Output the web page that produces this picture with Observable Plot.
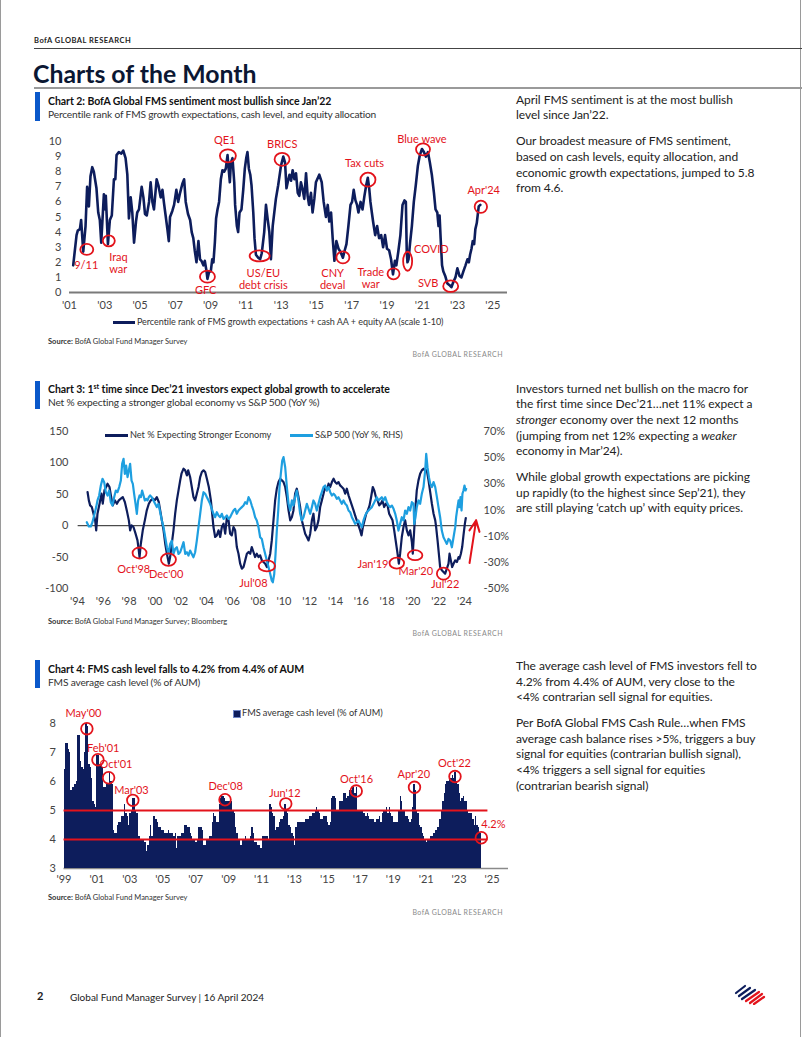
<!DOCTYPE html>
<html><head><meta charset="utf-8">
<script src="https://cdn.jsdelivr.net/npm/d3@7"></script>
<script src="https://cdn.jsdelivr.net/npm/@observablehq/plot@0.6"></script>
<style>
body{margin:0;background:#fff;}
#page{position:relative;width:802px;height:1037px;overflow:hidden;font-family:Lato,"Open Sans",sans-serif;color:#1b1b1b;}
#page .a{position:absolute;white-space:nowrap;}
.chart{position:absolute;left:0;}
.chart svg{overflow:visible;}
.rt{font-size:12px;line-height:15.7px;color:#222;letter-spacing:-0.05px;}
.ttl{font-size:10.5px;font-weight:700;line-height:14px;color:#111;letter-spacing:-0.05px;}
.sub{font-size:10.2px;line-height:14px;color:#333;letter-spacing:-0.17px;}
.src{font-size:7.5px;line-height:10px;color:#333;}
.bofa{font-size:7px;line-height:10px;color:#8a8a8a;letter-spacing:0.5px;}
.bar{background:#0a58ca;width:5px;}
.leg{font-size:9.2px;line-height:12px;color:#333;letter-spacing:-0.05px;}
</style></head><body><div id="page">
<div class="a" style="left:0;top:0;width:1px;height:1037px;background:#9a9a9a"></div>
<div class="a" style="left:800px;top:0;width:1px;height:1037px;background:#9a9a9a"></div>
<div class="a" style="left:34px;top:36px;font-size:7.5px;font-weight:700;letter-spacing:0.5px;line-height:10px;color:#222">BofA GLOBAL RESEARCH</div>
<div class="a" style="left:34px;top:48px;width:768px;height:1px;background:#444"></div>
<div class="a" style="left:33px;top:60px;font-size:24.8px;font-weight:700;line-height:28px;color:#0b1733">Charts of the Month</div>
<div class="a" style="left:34px;top:87px;width:768px;height:2px;background:#9a9a9a"></div>

<div class="a bar" style="left:35px;top:92px;height:29px"></div>
<div class="a ttl" style="left:48px;top:93.5px">Chart 2: BofA Global FMS sentiment most bullish since Jan’22</div>
<div class="a sub" style="left:48px;top:107px">Percentile rank of FMS growth expectations, cash level, and equity allocation</div>
<div id="c2" class="chart" style="top:130px"></div>
<div class="a" style="left:113px;top:321px;width:22px;height:2.5px;background:#0d1d5c"></div>
<div class="a leg" style="left:137px;top:316px;font-size:9px">Percentile rank of FMS growth expectations + cash AA + equity AA (scale 1-10)</div>
<div class="a src" style="left:48px;top:337px"><b>Source:</b> BofA Global Fund Manager Survey</div>
<div class="a bofa" style="left:403px;width:100px;text-align:right;top:349px">BofA GLOBAL RESEARCH</div>

<div class="a rt" style="left:516px;top:91.5px">April FMS sentiment is at the most bullish<br>level since Jan’22.</div>
<div class="a rt" style="left:516px;top:133.2px">Our broadest measure of FMS sentiment,<br>based on cash levels, equity allocation, and<br>economic growth expectations, jumped to 5.8<br>from 4.6.</div>

<div class="a bar" style="left:35px;top:381px;height:28px"></div>
<div class="a ttl" style="left:48px;top:381.5px">Chart 3: 1<sup style="font-size:7px;line-height:0">st</sup> time since Dec’21 investors expect global growth to accelerate</div>
<div class="a sub" style="left:48px;top:394.5px">Net % expecting a stronger global economy vs S&amp;P 500 (YoY %)</div>
<div id="c3" class="chart" style="top:420px"></div>
<div class="a" style="left:105px;top:434px;width:23px;height:2.5px;background:#0d1d5c"></div>
<div class="a leg" style="left:130px;top:429px">Net % Expecting Stronger Economy</div>
<div class="a" style="left:290px;top:434px;width:23px;height:2.5px;background:#1e9fe0"></div>
<div class="a leg" style="left:315px;top:429px">S&amp;P 500 (YoY %, RHS)</div>
<div class="a src" style="left:48px;top:617px"><b>Source:</b> BofA Global Fund Manager Survey; Bloomberg</div>
<div class="a bofa" style="left:403px;width:100px;text-align:right;top:628px">BofA GLOBAL RESEARCH</div>

<div class="a rt" style="left:516px;top:380.5px">Investors turned net bullish on the macro for<br>the first time since Dec’21…net 11% expect a<br><i>stronger</i> economy over the next 12 months<br>(jumping from net 12% expecting a <i>weaker</i><br>economy in Mar’24).</div>
<div class="a rt" style="left:516px;top:468.8px">While global growth expectations are picking<br>up rapidly (to the highest since Sep’21), they<br>are still playing ‘catch up’ with equity prices.</div>

<div class="a bar" style="left:35px;top:660px;height:28px"></div>
<div class="a ttl" style="left:48px;top:661.5px">Chart 4: FMS cash level falls to 4.2% from 4.4% of AUM</div>
<div class="a sub" style="left:48px;top:675px">FMS average cash level (% of AUM)</div>
<div id="c4" class="chart" style="top:695px"></div>
<div class="a" style="left:233px;top:709.5px;width:6px;height:6px;background:#0d1d5c;border:0.8px solid #6f86c8"></div>
<div class="a leg" style="left:242px;top:707px">FMS average cash level (% of AUM)</div>
<div class="a src" style="left:48px;top:893px"><b>Source:</b> BofA Global Fund Manager Survey</div>
<div class="a bofa" style="left:403px;width:100px;text-align:right;top:907px">BofA GLOBAL RESEARCH</div>

<div class="a rt" style="left:516px;top:658px">The average cash level of FMS investors fell to<br>4.2% from 4.4% of AUM, very close to the<br>&lt;4% contrarian sell signal for equities.</div>
<div class="a rt" style="left:516px;top:715px">Per BofA Global FMS Cash Rule…when FMS<br>average cash balance rises &gt;5%, triggers a buy<br>signal for equities (contrarian bullish signal),<br>&lt;4% triggers a sell signal for equities<br>(contrarian bearish signal)</div>

<div class="a" style="left:37px;top:989px;font-size:11px;font-weight:700;line-height:14px">2</div>
<div class="a" style="left:70px;top:989.5px;font-size:10px;line-height:14px;color:#222">Global Fund Manager Survey | 16 April 2024</div>
<svg class="a" style="left:733px;top:983px" width="34" height="22" viewBox="0 0 34 22">
<g stroke-linecap="round" stroke-width="2.2" fill="none">
<path d="M3 10 L12 3" stroke="#0d1d5c"/><path d="M6 13 L17 5" stroke="#0d1d5c"/><path d="M9 16 L22 7" stroke="#0d1d5c"/>
<path d="M13 18 L26 9" stroke="#e3131b"/><path d="M17 20 L29 11" stroke="#e3131b"/><path d="M21 21 L31 14" stroke="#e3131b"/>
</g></svg>
</div>
<script>
// ---------- Chart 2 data: BofA FMS sentiment (scale 0-10) ----------
const sentYears = [2001.21,2001.40,2001.47,2001.59,2001.66,2001.78,2001.91,2002.00,2002.10,2002.19,2002.29,2002.38,2002.53,2002.63,2002.72,2002.80,2002.95,2003.03,2003.06,2003.18,2003.29,2003.40,2003.52,2003.60,2003.67,2003.80,2003.94,2004.05,2004.18,2004.28,2004.37,2004.47,2004.56,2004.66,2004.77,2004.84,2004.94,2005.09,2005.19,2005.28,2005.38,2005.51,2005.60,2005.70,2005.79,2005.94,2006.04,2006.17,2006.27,2006.36,2006.45,2006.55,2006.63,2006.70,2006.83,2006.93,2007.06,2007.16,2007.27,2007.40,2007.50,2007.59,2007.72,2007.84,2007.93,2008.02,2008.10,2008.20,2008.31,2008.40,2008.48,2008.59,2008.67,2008.77,2008.82,2008.92,2009.01,2009.09,2009.16,2009.24,2009.31,2009.39,2009.48,2009.58,2009.67,2009.77,2009.86,2009.96,2010.03,2010.09,2010.15,2010.24,2010.34,2010.39,2010.49,2010.56,2010.64,2010.75,2010.85,2010.94,2011.02,2011.09,2011.17,2011.25,2011.32,2011.42,2011.49,2011.57,2011.70,2011.81,2011.90,2012.04,2012.14,2012.23,2012.33,2012.42,2012.52,2012.70,2012.83,2012.99,2013.12,2013.22,2013.30,2013.37,2013.47,2013.56,2013.65,2013.75,2013.84,2013.94,2014.03,2014.12,2014.22,2014.31,2014.41,2014.50,2014.58,2014.69,2014.78,2014.88,2014.97,2015.16,2015.30,2015.41,2015.54,2015.64,2015.73,2015.83,2015.92,2016.02,2016.13,2016.25,2016.36,2016.50,2016.58,2016.70,2016.81,2016.93,2017.02,2017.11,2017.21,2017.30,2017.38,2017.50,2017.61,2017.72,2017.82,2017.91,2017.99,2018.06,2018.14,2018.21,2018.33,2018.44,2018.55,2018.67,2018.78,2018.89,2019.00,2019.12,2019.23,2019.34,2019.45,2019.53,2019.64,2019.76,2019.88,2019.99,2020.07,2020.12,2020.16,2020.22,2020.31,2020.41,2020.52,2020.63,2020.75,2020.86,2020.98,2021.09,2021.20,2021.32,2021.43,2021.54,2021.66,2021.75,2021.85,2021.92,2021.98,2022.04,2022.12,2022.19,2022.30,2022.42,2022.53,2022.65,2022.76,2022.88,2022.99,2023.11,2023.22,2023.33,2023.45,2023.56,2023.64,2023.71,2023.79,2023.86,2023.94,2024.01,2024.09,2024.20,2024.29];
const sentValues = [1.8,3.8,4.1,4.2,4.8,2.7,4.4,7.0,5.7,7.7,8.3,8.0,6.9,5.3,4.8,3.3,6.5,5.5,6.4,3.2,4.8,5.1,7.5,7.5,9.1,9.3,9.2,9.4,8.9,7.8,4.9,6.3,5.3,3.3,4.7,5.3,5.5,7.0,6.3,5.2,5.1,6.0,7.3,6.0,5.5,7.5,7.1,6.3,6.8,5.9,5.1,4.2,3.4,5.0,5.4,5.8,6.8,6.0,6.6,7.2,7.5,6.0,5.2,4.8,4.0,3.6,2.8,2.0,3.4,2.2,2.1,1.8,2.1,1.4,0.9,1.4,1.4,2.2,2.0,3.3,4.9,5.5,6.0,7.5,8.1,8.0,8.2,9.1,8.1,7.3,8.6,8.9,7.3,5.8,4.4,4.0,5.3,5.5,6.8,8.2,8.9,9.3,8.2,7.8,7.1,5.3,3.6,2.5,2.3,2.2,2.6,4.0,5.8,4.9,4.0,2.2,4.4,6.2,7.1,8.4,9.0,8.6,6.9,7.3,7.8,7.4,8.1,7.5,7.9,6.6,6.4,7.3,6.8,6.2,7.9,6.4,5.8,6.6,5.3,6.2,7.3,7.8,7.3,6.0,5.0,5.8,4.7,5.3,3.6,2.1,3.4,2.9,2.7,2.3,2.7,3.2,4.4,5.8,6.0,6.8,6.1,5.8,5.3,6.0,5.5,6.4,7.1,7.6,6.9,6.0,5.3,4.7,3.8,4.4,3.6,3.8,3.0,3.8,2.9,2.8,2.2,1.2,2.1,1.8,2.7,3.8,5.8,6.1,6.0,2.7,2.0,2.2,3.3,4.4,6.0,7.1,8.4,9.1,9.5,9.3,9.0,9.3,8.6,7.8,6.6,5.5,5.3,4.4,5.1,3.6,1.8,1.4,1.1,0.6,0.5,0.35,0.7,1.0,1.6,1.1,1.0,1.4,1.8,2.2,2.0,2.5,2.9,3.4,3.2,4.2,4.6,5.7,5.8];
const sentYTicks = [0,1,2,3,4,5,6,7,8,9,10];
const sentXTicks = [2001,2003,2005,2007,2009,2011,2013,2015,2017,2019,2021,2023,2025];
const sentXExtent = [2001, 2025.83];
const sentRingText = ["9/11","Iraq war","GFC","QE1","US/EU debt crisis","BRICS","CNY deval","Tax cuts","Trade war","COVID","SVB","Blue wave","Apr'24"];
const sentRingX = [2001.98,2003.23,2008.82,2009.98,2011.78,2013.05,2016.5,2017.92,2019.37,2020.17,2022.61,2021.04,2024.32];
const sentRingY = [2.85,3.42,1.05,9.05,2.42,8.82,2.32,7.47,1.24,2.07,0.42,9.48,5.68];
const sentLabelText = ["9/11","Iraq\nwar","GFC","QE1","US/EU\ndebt crisis","BRICS","CNY\ndeval","Tax cuts","Trade\nwar","COVID","SVB","Blue wave","Apr'24"];
const sentLabelX = [2001.95,2003.25,2008.72,2009.8,2011.99,2013.06,2015.92,2017.72,2018.08,2020.53,2021.33,2020.98,2024.48];
const sentLabelY = [1.8,1.95,0.18,10.1,0.88,9.8,0.9,8.56,0.94,2.88,0.65,10.13,6.8];

// ---------- Chart 3 data ----------
const netYears = [1994.78,1994.88,1994.98,1995.11,1995.24,1995.37,1995.45,1995.55,1995.71,1995.86,1995.96,1996.09,1996.22,1996.33,1996.48,1996.61,1996.74,1996.89,1997.05,1997.2,1997.36,1997.51,1997.67,1997.82,1997.98,1998.08,1998.19,1998.34,1998.5,1998.65,1998.75,1998.81,1998.91,1999.06,1999.22,1999.37,1999.53,1999.68,1999.84,1999.99,2000.15,2000.3,2000.41,2000.54,2000.67,2000.8,2000.93,2001.03,2001.08,2001.18,2001.31,2001.44,2001.57,2001.7,2001.83,2001.96,2002.06,2002.22,2002.35,2002.48,2002.58,2002.73,2002.86,2002.99,2003.12,2003.25,2003.38,2003.51,2003.64,2003.77,2003.9,2004.03,2004.18,2004.34,2004.44,2004.54,2004.67,2004.8,2004.93,2005.06,2005.19,2005.32,2005.45,2005.58,2005.71,2005.83,2005.96,2006.09,2006.22,2006.35,2006.48,2006.61,2006.74,2006.87,2007.0,2007.13,2007.26,2007.39,2007.51,2007.64,2007.77,2007.9,2008.03,2008.16,2008.29,2008.42,2008.55,2008.68,2008.81,2008.94,2009.06,2009.19,2009.32,2009.45,2009.58,2009.71,2009.84,2009.97,2010.1,2010.23,2010.36,2010.49,2010.62,2010.74,2010.87,2011.0,2011.13,2011.26,2011.39,2011.52,2011.65,2011.78,2011.91,2012.04,2012.17,2012.29,2012.42,2012.55,2012.68,2012.81,2012.94,2013.07,2013.2,2013.33,2013.46,2013.59,2013.72,2013.85,2013.97,2014.1,2014.23,2014.36,2014.49,2014.62,2014.75,2014.88,2015.01,2015.14,2015.27,2015.4,2015.52,2015.65,2015.78,2015.91,2016.02,2016.12,2016.25,2016.38,2016.51,2016.64,2016.76,2016.89,2017.0,2017.13,2017.26,2017.39,2017.51,2017.64,2017.77,2017.9,2018.03,2018.16,2018.29,2018.42,2018.55,2018.68,2018.81,2018.91,2019.01,2019.14,2019.27,2019.4,2019.53,2019.66,2019.79,2019.92,2019.99,2020.1,2020.2,2020.3,2020.43,2020.56,2020.69,2020.82,2020.95,2021.08,2021.21,2021.34,2021.47,2021.6,2021.73,2021.8,2021.91,2022.01,2022.11,2022.24,2022.37,2022.5,2022.63,2022.76,2022.84,2022.94,2023.04,2023.15,2023.28,2023.41,2023.54,2023.61,2023.72,2023.82,2023.92,2024.03,2024.1];
const netValues = [53.6,40.3,32.4,29.7,19.1,8.5,-7.4,19.1,35.0,51.0,35.0,56.3,61.6,66.9,61.6,45.6,32.4,40.3,35.0,40.3,43.0,45.6,37.7,24.4,8.5,-7.4,0.5,-2.1,-12.7,-23.4,-39.3,-49.9,-28.7,-7.4,8.5,24.4,35.0,40.3,43.0,40.3,45.6,37.7,24.4,8.5,-7.4,-28.7,-44.6,-55.2,-60.5,-49.9,-28.7,-7.4,19.1,40.3,56.3,72.2,82.8,90.8,88.1,80.1,88.1,77.5,61.6,45.6,40.3,51.0,61.6,77.5,85.5,88.1,85.5,74.8,61.6,40.3,19.1,-2.1,-18.0,-15.4,-7.4,-18.0,-2.1,3.2,-12.7,13.8,8.5,-12.7,-15.4,-2.1,-7.4,-34.0,-44.6,-60.5,-68.5,-65.8,-55.2,-44.6,-41.9,-44.6,-34.0,-41.9,-49.9,-44.6,-49.9,-47.2,-55.2,-57.9,-60.5,-65.8,-55.2,-44.6,-23.4,8.5,40.3,58.9,69.5,74.8,72.2,69.5,61.6,45.6,24.4,8.5,13.8,24.4,51.0,58.9,45.6,29.7,8.5,-2.1,-12.7,-18.0,-23.4,-12.7,8.5,19.1,-7.4,-2.1,8.5,29.7,40.3,51.0,61.6,56.3,66.9,61.6,69.5,74.8,69.5,66.9,69.5,64.2,61.6,58.9,51.0,58.9,48.3,40.3,32.4,24.4,16.5,8.5,0.5,-7.4,-15.4,-2.1,8.5,19.1,24.4,32.4,45.6,61.6,56.3,45.6,40.3,32.4,35.0,40.3,29.7,35.0,32.4,19.1,13.8,8.5,-7.4,-26.0,-44.6,-60.5,-44.6,-18.0,-2.1,8.5,-7.4,-15.4,-7.4,-26.0,-44.6,-7.4,29.7,56.3,72.2,82.8,88.1,90.8,88.1,88.1,72.2,53.6,35.0,19.1,8.5,-2.1,-23.4,-44.6,-65.8,-71.1,-73.8,-76.4,-68.5,-60.5,-44.6,-55.2,-65.8,-60.5,-55.2,-57.9,-49.9,-52.5,-44.6,-34.0,-15.4,3.2,12.2];
const spxYears = [1994.72,1994.88,1995.03,1995.16,1995.29,1995.45,1995.55,1995.68,1995.81,1995.94,1996.07,1996.2,1996.33,1996.45,1996.58,1996.71,1996.84,1996.97,1997.1,1997.23,1997.36,1997.46,1997.57,1997.67,1997.77,1997.88,1997.98,1998.08,1998.19,1998.29,1998.39,1998.5,1998.6,1998.7,1998.81,1998.91,1999.01,1999.12,1999.22,1999.32,1999.43,1999.53,1999.63,1999.76,1999.89,2000.02,2000.15,2000.28,2000.41,2000.54,2000.67,2000.8,2000.93,2001.05,2001.18,2001.31,2001.44,2001.57,2001.7,2001.83,2001.96,2002.09,2002.22,2002.35,2002.48,2002.6,2002.73,2002.86,2002.99,2003.12,2003.25,2003.38,2003.51,2003.64,2003.77,2003.9,2004.03,2004.16,2004.28,2004.41,2004.54,2004.67,2004.8,2004.93,2005.06,2005.19,2005.32,2005.45,2005.58,2005.71,2005.83,2005.96,2006.09,2006.22,2006.35,2006.48,2006.61,2006.74,2006.87,2007.0,2007.13,2007.26,2007.39,2007.51,2007.64,2007.77,2007.9,2008.03,2008.16,2008.29,2008.42,2008.55,2008.68,2008.81,2008.94,2009.06,2009.14,2009.25,2009.35,2009.45,2009.56,2009.66,2009.76,2009.87,2009.97,2010.1,2010.23,2010.36,2010.49,2010.62,2010.74,2010.87,2011.0,2011.13,2011.26,2011.39,2011.52,2011.65,2011.78,2011.91,2012.04,2012.17,2012.29,2012.42,2012.55,2012.68,2012.81,2012.94,2013.07,2013.2,2013.33,2013.46,2013.59,2013.72,2013.85,2013.97,2014.1,2014.23,2014.36,2014.49,2014.62,2014.75,2014.88,2015.01,2015.14,2015.27,2015.4,2015.52,2015.65,2015.78,2015.91,2016.04,2016.17,2016.3,2016.43,2016.56,2016.69,2016.82,2016.95,2017.07,2017.2,2017.33,2017.46,2017.59,2017.72,2017.85,2017.98,2018.11,2018.24,2018.37,2018.5,2018.63,2018.75,2018.88,2019.01,2019.14,2019.27,2019.4,2019.53,2019.66,2019.79,2019.92,2020.05,2020.1,2020.2,2020.3,2020.43,2020.56,2020.69,2020.82,2020.95,2021.03,2021.13,2021.24,2021.34,2021.47,2021.6,2021.73,2021.86,2021.98,2022.11,2022.24,2022.37,2022.5,2022.63,2022.76,2022.89,2023.02,2023.15,2023.28,2023.35,2023.46,2023.54,2023.61,2023.69,2023.77,2023.84,2023.92,2024.0,2024.08,2024.13];
const spxValues = [0.7,-2.6,-2.6,0.7,5.8,12.2,17.3,21.1,28.7,33.8,31.3,23.6,21.1,24.9,16.0,13.4,19.8,24.9,23.6,27.5,32.5,45.3,49.1,37.6,44.0,35.1,40.2,45.3,32.5,30.0,22.4,14.7,7.1,17.3,21.1,19.8,24.9,21.1,17.3,18.5,17.3,19.8,21.1,19.8,17.3,14.7,12.2,14.7,8.3,2.0,-3.1,-10.8,-18.5,-23.6,-15.9,-13.4,-23.6,-19.7,-18.5,-23.6,-22.3,-18.5,-14.6,-23.6,-22.3,-24.8,-21.0,-23.6,-26.1,-22.3,-13.4,-3.1,7.1,17.3,23.6,22.4,19.8,17.3,14.7,10.9,7.1,4.5,8.3,5.8,4.5,7.1,3.2,4.5,5.8,3.2,4.5,7.1,9.6,10.9,7.1,9.6,10.9,12.2,13.4,16.0,14.7,19.8,17.3,13.4,9.6,4.5,2.0,-3.1,-10.8,-12.1,-18.5,-23.6,-28.7,-33.8,-38.9,-44.0,-45.2,-38.9,-23.6,-5.7,9.6,27.4,37.6,47.8,50.4,42.7,27.4,14.7,9.6,17.3,13.4,19.8,24.9,17.3,7.1,2.0,4.5,9.6,14.7,10.9,7.1,12.2,17.3,14.7,9.6,14.7,19.8,23.6,27.5,28.7,24.9,27.5,23.6,21.1,22.4,21.1,18.5,19.8,17.3,14.7,17.3,14.7,13.4,9.6,8.3,4.5,2.0,-0.6,0.7,2.0,-0.6,-3.1,2.0,5.8,8.3,9.6,10.9,12.2,14.7,17.3,19.8,17.3,18.5,19.8,17.3,19.8,16.0,13.4,12.2,13.4,10.9,7.1,2.0,-5.7,-0.6,4.5,2.0,9.6,7.1,12.2,9.6,16.0,14.7,-0.6,4.5,12.2,17.3,14.7,22.4,27.5,40.2,52.9,42.7,35.1,30.0,27.5,31.3,27.5,19.8,12.2,4.5,-5.7,-10.8,-13.4,-15.9,-12.1,-13.4,-18.5,-10.8,-3.1,4.5,12.2,17.3,12.2,19.8,9.6,22.4,24.9,28.7,24.9,26.1];
const netTicks = [-100,-50,0,50,100,150];
const spxTicks = [-50,-30,-10,10,30,50,70];
const c3XTicks = [1994,1996,1998,2000,2002,2004,2006,2008,2010,2012,2014,2016,2018,2020,2022,2024];
const c3ZeroSpan = [1994.05, 2024.95];
const c3RingText = ["Oct'98","Dec'00","Jul'08","Jan'19","Mar'20","Jul'22"];
const c3RingX = [1998.81,2001.05,2008.68,2018.75,2020.17,2022.37];
const c3RingY = [-43.5,-54,-64,-59.5,-47,-76.4];
const c3LabelX = [1998.36,2000.87,2007.64,2016.9,2020.23,2022.5];
const c3LabelY = [-69.5,-77.5,-92,-61.6,-72,-92.4];
const c3Arrow = {from: [2024.39, -59.4], to: [2024.9, 8.5]};

// ---------- Chart 4 data: FMS average cash level (% of AUM), monthly from Jan 1999 ----------
const cashStart = [1999, 0];
const cash1999_2008 = [
 6.4,7.3,7.3,7.1,7.0,5.7,5.8,5.8,5.9,6.0,7.6,7.6,
 6.7,6.5,6.4,7.0,8.0,7.9,6.6,6.5,6.1,5.3,5.2,5.1,
 6.9,6.9,6.6,6.6,6.5,5.8,5.8,5.9,5.9,6.3,6.0,5.9,
 4.3,4.2,4.2,4.5,4.6,4.6,4.8,4.8,5.2,4.9,4.8,4.5,
 4.9,5.0,5.4,5.4,5.0,4.9,4.1,4.1,4.0,4.0,4.0,3.9,
 3.6,3.8,4.1,4.5,4.1,4.8,4.8,4.7,4.6,4.4,4.4,4.3,
 4.3,4.2,4.2,4.2,4.3,4.2,4.2,4.2,4.1,4.2,3.7,4.1,
 4.1,4.1,4.2,4.2,4.5,4.5,4.4,4.4,4.2,4.1,4.0,4.0,
 3.9,4.0,4.4,4.4,4.4,4.3,3.8,3.8,4.0,4.0,4.1,4.1,
 4.6,4.9,4.8,4.6,4.6,5.2,5.4,5.5,5.5,5.4,5.3,5.3];
const cash2009_2016 = [
 5.3,5.3,5.3,5.0,4.9,4.4,4.2,4.0,4.0,3.8,4.0,4.0,
 4.1,4.0,4.0,4.0,4.1,4.4,4.2,3.9,3.9,3.8,3.8,3.7,
 3.7,4.1,4.1,4.1,4.1,4.0,5.2,5.1,4.9,4.8,4.3,4.4,
 4.4,4.6,4.7,4.7,4.8,5.2,5.0,4.9,4.5,4.4,4.2,4.1,
 3.8,4.4,4.6,4.6,4.6,4.6,4.6,4.6,4.7,4.7,4.7,4.8,
 4.8,4.9,4.9,5.0,5.1,5.0,4.9,4.7,4.7,4.8,4.8,4.8,
 4.6,4.5,4.6,5.4,5.5,5.5,5.4,5.0,5.0,5.3,5.3,5.3,
 5.6,5.6,5.4,5.5,5.7,5.7,5.8,5.8,5.6,5.8,5.0,5.0];
const cash2017_2024 = [
 5.0,5.0,4.9,4.9,4.8,4.9,4.8,4.7,4.7,4.7,4.6,4.6,
 4.7,4.7,4.8,4.6,4.9,5.0,5.0,5.1,4.9,5.1,4.9,4.8,
 4.6,4.6,4.6,4.6,5.0,5.5,5.3,5.0,5.0,4.8,4.8,4.7,
 4.6,4.7,5.1,5.9,5.7,5.0,4.9,4.5,4.4,4.2,4.1,4.0,
 3.9,4.0,4.0,4.1,4.1,4.2,4.2,4.3,4.4,4.4,4.7,5.0,
 5.3,5.6,5.9,6.0,6.0,6.1,6.1,6.2,6.1,6.3,6.0,5.9,
 5.6,5.3,5.4,5.5,5.3,5.3,5.0,4.9,4.9,4.9,4.7,4.5,
 4.8,4.5,4.4,4.2];
const cashYTicks = [3,4,5,6,7,8];
const cashXTicks = [1999,2001,2003,2005,2007,2009,2011,2013,2015,2017,2019,2021,2023,2025];
const cashRules = [5, 4];
const cashRuleSpan = [1999.0, 2024.75];
const cashRingText = ["May'00","Feb'01","Oct'01","Mar'03","Dec'08","Jun'12","Oct'16","Apr'20","Oct'22","4.2%"];
const cashRingX = [2000.39,2001.06,2001.71,2003.18,2008.78,2012.47,2016.75,2020.29,2022.75,2024.35];
const cashRingY = [7.82,6.75,6.13,5.35,5.37,5.23,5.67,5.8,6.17,4.06];
const cashLabelX = [2000.18,2001.38,2002.16,2003.1,2008.82,2012.41,2016.77,2020.25,2022.72,2025.08];
const cashLabelY = [8.37,7.15,6.61,5.69,5.84,5.61,6.09,6.26,6.63,4.54];

// ---------- helpers & styles ----------
const NAVY = "#0d1d5c", LIGHT = "#1e9fe0", RED = "#e3131b", TXT = "#444";
const FONT = "Lato, 'Open Sans', sans-serif";
const yd = y => { const Y = Math.floor(y); const a = Date.UTC(Y,0,1), b = Date.UTC(Y+1,0,1); return new Date(a + (y - Y)*(b - a)); };
const yy = d => "'" + String(d.getUTCFullYear()).slice(2);
function ellipse(rx, ry){ const k = 0.5523; return {draw(c){ c.moveTo(rx,0); c.bezierCurveTo(rx,ry*k,rx*k,ry,0,ry); c.bezierCurveTo(-rx*k,ry,-rx,ry*k,-rx,0); c.bezierCurveTo(-rx,-ry*k,-rx*k,-ry,0,-ry); c.bezierCurveTo(rx*k,-ry,rx,-ry*k,rx,0); c.closePath(); }}; }
const ringStyle = {fill: "none", stroke: RED, strokeWidth: 1.8};
const labelStyle = {fill: RED, fontSize: 11, fontFamily: FONT, lineHeight: 1.1};
const baseStyle = {fontFamily: FONT, fontSize: "11px", color: TXT, background: "transparent", overflow: "visible"};

// ring sizes (px) per annotation
const sentRingSize = [[6.5,5.5],[6,5.5],[7.5,6],[8,6.5],[10,5.5],[7.5,6.5],[6.5,6],[7.5,7],[6,5.5],[4.5,9.5],[7.5,5.8],[7,6],[6.2,6.2]];
const c3RingSize = [[7,5.5],[7.5,6.2],[8.2,5.5],[7.3,5.5],[7.3,5],[6.6,6]];
const cashRingSize = [[5.8,5.8],[5.8,5.8],[5.8,5.8],[5.8,5.8],[5.8,5.8],[5.8,5.8],[5.8,5.8],[5.8,5.8],[5.8,5.8],[5.8,5.8]];

function rings(xs, ys, sizes, toX){
  return xs.map((x, i) => Plot.dot([{x: toX(x), y: ys[i]}], {x: "x", y: "y", r: 5, symbol: ellipse(sizes[i][0], sizes[i][1]), ...ringStyle}));
}

// ---------- Chart 2 ----------
{
  const data = sentYears.map((t, i) => ({date: yd(t), v: sentValues[i]}));
  const labels = sentLabelText.map((t, i) => ({t, x: yd(sentLabelX[i]), y: sentLabelY[i], left: t === "Iraq\nwar" || t === "COVID"}));
  const chart = Plot.plot({
    width: 510, height: 185, marginLeft: 69, marginRight: 3, marginTop: 11, marginBottom: 23,
    style: baseStyle,
    x: {type: "utc", domain: sentXExtent.map(yd), label: null},
    y: {domain: [0, 10], label: null},
    marks: [
      Plot.axisY({ticks: sentYTicks, tickSize: 0, tickPadding: 8, tickFormat: d => String(d), label: null, fontSize: 11}),
      Plot.axisX({ticks: sentXTicks.map(yd), tickSize: 0, tickPadding: 9, tickFormat: yy, label: null, fontSize: 11}),
      Plot.ruleY([0], {stroke: "#7a7a7a", strokeWidth: 2}),
      Plot.line(data, {x: "date", y: "v", stroke: NAVY, strokeWidth: 2.6, strokeLinejoin: "round"}),
      ...rings(sentRingX, sentRingY, sentRingSize, yd),
      Plot.text(labels.filter(d => !d.left), {x: "x", y: "y", text: "t", textAnchor: "middle", ...labelStyle}),
      Plot.text(labels.filter(d => d.left), {x: "x", y: "y", text: "t", textAnchor: "start", ...labelStyle})
    ]
  });
  document.getElementById("c2").append(chart);
}

// ---------- Chart 3 ----------
{
  const toLeft = p => (p + 50) * 250 / 120 - 100;
  const toPct = v => Math.round((v + 100) * 120 / 250 - 50);
  const net = netYears.map((t, i) => ({date: yd(t), v: netValues[i]}));
  const spx = spxYears.map((t, i) => ({date: yd(t), v: toLeft(spxValues[i])}));
  const labels = c3RingText.map((t, i) => ({t, x: yd(c3LabelX[i]), y: c3LabelY[i]}));
  const chart = Plot.plot({
    width: 510, height: 195, marginLeft: 77, marginRight: 46, marginTop: 11, marginBottom: 27,
    style: baseStyle,
    x: {type: "utc", domain: [yd(1994), yd(2024)], label: null},
    y: {domain: [-100, 150], label: null},
    marks: [
      Plot.axisY({ticks: netTicks, tickSize: 0, tickPadding: 9, tickFormat: d => String(d), label: null, fontSize: 11}),
      Plot.axisY({anchor: "right", ticks: spxTicks.map(toLeft), tickSize: 0, tickPadding: 19, tickFormat: v => toPct(v) + "%", label: null, fontSize: 11}),
      Plot.axisX({ticks: c3XTicks.map(yd), tickSize: 0, tickPadding: 9, tickFormat: yy, label: null, fontSize: 11}),
      Plot.ruleY([{y: 0, x1: yd(c3ZeroSpan[0]), x2: yd(c3ZeroSpan[1])}], {y: "y", x1: "x1", x2: "x2", stroke: "#222", strokeWidth: 1}),
      Plot.line(net, {x: "date", y: "v", stroke: NAVY, strokeWidth: 2.2, strokeLinejoin: "round"}),
      Plot.line(spx, {x: "date", y: "v", stroke: LIGHT, strokeWidth: 2.2, strokeLinejoin: "round"}),
      ...rings(c3RingX, c3RingY, c3RingSize, yd),
      Plot.text(labels, {x: "x", y: "y", text: "t", textAnchor: "middle", ...labelStyle}),
      Plot.arrow([{x1: yd(c3Arrow.from[0]), y1: c3Arrow.from[1], x2: yd(c3Arrow.to[0]), y2: c3Arrow.to[1]}], {x1: "x1", y1: "y1", x2: "x2", y2: "y2", stroke: RED, strokeWidth: 2, headLength: 9, headAngle: 50})
    ]
  });
  document.getElementById("c3").append(chart);
}

// ---------- Chart 4 ----------
{
  const values = [...cash1999_2008, ...cash2009_2016, ...cash2017_2024];
  const bars = values.map((v, i) => {
    const m = cashStart[1] + i;
    return {x1: new Date(Date.UTC(cashStart[0], m, 1)), x2: new Date(Date.UTC(cashStart[0], m + 1, 1)), v};
  });
  const labels = cashRingText.map((t, i) => ({t, x: yd(cashLabelX[i]), y: cashLabelY[i]}));
  const chart = Plot.plot({
    width: 510, height: 195, marginLeft: 63.5, marginRight: 2, marginTop: 28, marginBottom: 22,
    style: baseStyle,
    x: {type: "utc", domain: [yd(1999), yd(2026)], label: null},
    y: {domain: [3, 8], label: null},
    marks: [
      Plot.axisY({ticks: cashYTicks, tickSize: 0, tickPadding: 8, tickFormat: d => String(d), label: null, fontSize: 11}),
      Plot.axisX({ticks: cashXTicks.map(yd), tickSize: 0, tickPadding: 7, tickFormat: yy, label: null, fontSize: 11}),
      Plot.ruleY([3], {stroke: "#8a8a8a", strokeWidth: 1.5}),
      Plot.rect(bars, {x1: "x1", x2: "x2", y1: () => 3, y2: "v", fill: NAVY, shapeRendering: "crispEdges"}),
      Plot.ruleY(cashRules.map(y => ({y, x1: yd(cashRuleSpan[0]), x2: yd(cashRuleSpan[1])})), {y: "y", x1: "x1", x2: "x2", stroke: RED, strokeWidth: 2}),
      ...rings(cashRingX, cashRingY, cashRingSize, yd),
      Plot.text(labels, {x: "x", y: "y", text: "t", textAnchor: "middle", ...labelStyle})
    ]
  });
  document.getElementById("c4").append(chart);
}
</script>
</body></html>
